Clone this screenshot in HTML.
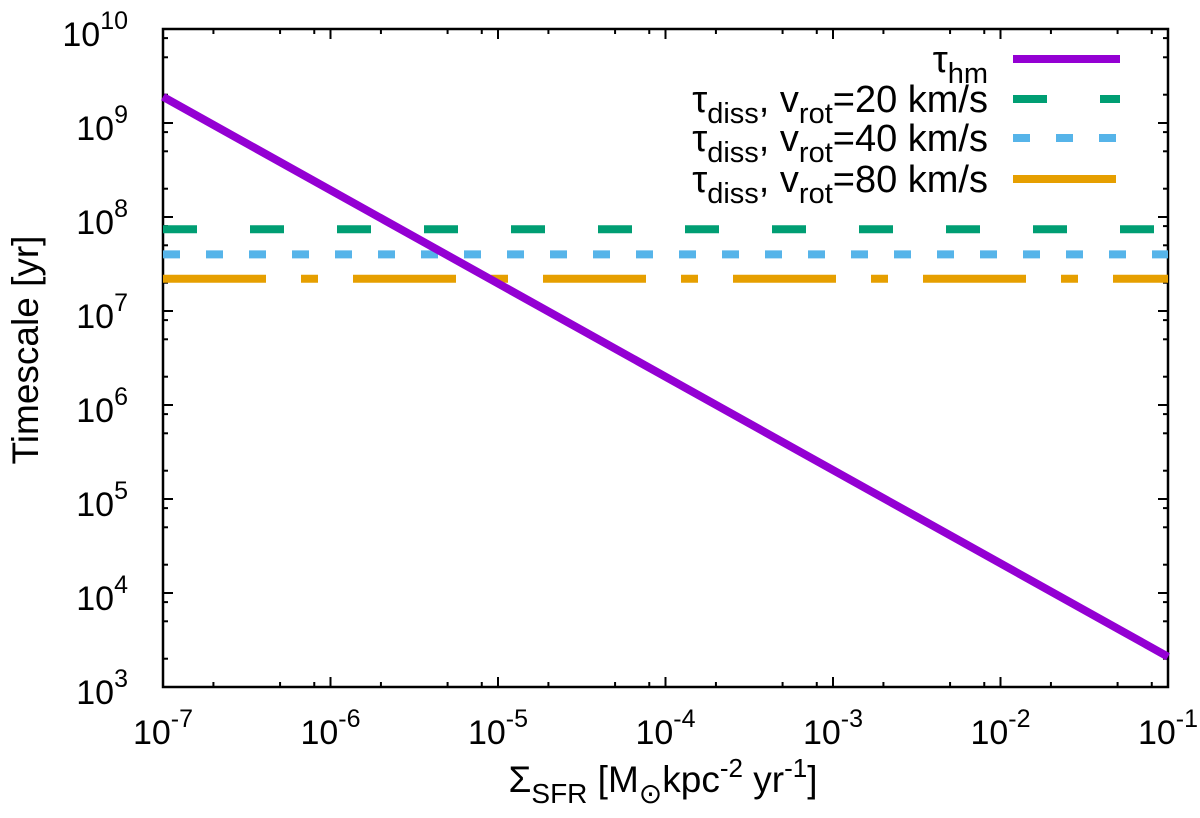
<!DOCTYPE html>
<html><head><meta charset="utf-8"><style>
html,body{margin:0;padding:0;background:#fff;}
svg{display:block;font-family:"Liberation Sans",Arial,sans-serif;}
</style></head><body>
<svg id="chart" width="1200" height="818" viewBox="0 0 1200 818" xmlns="http://www.w3.org/2000/svg"></svg>
<script>
const xDecades = [-7,-6,-5,-4,-3,-2,-1];
const yDecades = [3,4,5,6,7,8,9,10];
const minorMult = [2,5,8];
const hmX = [1e-7, 1e-1];
const hmY = [1.9e9, 2.1e3];
const dissVrot = ["20","40","80"];
const dissY = [7.4e7, 4.0e7, 2.2e7];
const dissColors = ["#009e73","#56b4e9","#e69f00"];
const dissDash = ["34 53","17 26","103 35 17 35"];

const L=163,R=1168,T=29,B=687;
const sx=v=>L+(Math.log10(v)+7)/6*(R-L);
const sy=v=>B-(Math.log10(v)-3)/7*(B-T);
const NS="http://www.w3.org/2000/svg";
const svg=document.getElementById('chart');
function mk(tag,attrs,parent){const e=document.createElementNS(NS,tag);for(const k in attrs)e.setAttribute(k,attrs[k]);(parent||svg).appendChild(e);return e;}

const axes=mk('g',{});


xDecades.forEach(d=>{
  const x=sx(Math.pow(10,d));
  mk('line',{x1:x,x2:x,y1:B,y2:B-10,stroke:'#000','stroke-width':2},axes);
  mk('line',{x1:x,x2:x,y1:T,y2:T+10,stroke:'#000','stroke-width':2},axes);
  if(d<-1)minorMult.forEach(m=>{const xm=sx(m*Math.pow(10,d));
    mk('line',{x1:xm,x2:xm,y1:B,y2:B-5,stroke:'#000','stroke-width':2},axes);
    mk('line',{x1:xm,x2:xm,y1:T,y2:T+5,stroke:'#000','stroke-width':2},axes);});
  const t=mk('text',{x:x,y:744,'font-size':34,'text-anchor':'middle',fill:'#000'});
  
  
  t.innerHTML='10<tspan dy="-17" font-size="25">'+d+'</tspan>';
});
yDecades.forEach(d=>{
  const y=sy(Math.pow(10,d));
  mk('line',{x1:L,x2:L+10,y1:y,y2:y,stroke:'#000','stroke-width':2},axes);
  mk('line',{x1:R,x2:R-10,y1:y,y2:y,stroke:'#000','stroke-width':2},axes);
  if(d<10)minorMult.forEach(m=>{const ym=sy(m*Math.pow(10,d));
    mk('line',{x1:L,x2:L+5,y1:ym,y2:ym,stroke:'#000','stroke-width':2},axes);
    mk('line',{x1:R,x2:R-5,y1:ym,y2:ym,stroke:'#000','stroke-width':2},axes);});
  const t=mk('text',{x:128,y:y+17,'font-size':34,'text-anchor':'end',fill:'#000'});
  
  
  t.innerHTML='10<tspan dy="-17" font-size="25">'+d+'</tspan>';
});

dissY.forEach((v,i)=>{
  const l=mk('line',{x1:L,x2:R,y1:sy(v),y2:sy(v),stroke:dissColors[i],'stroke-width':8,'stroke-dasharray':dissDash[i]});
  
  
});
const hm=mk('polyline',{points:hmX.map((x,i)=>sx(x)+','+sy(hmY[i])).join(' '),stroke:'#9400d3','stroke-width':8,fill:'none'});



mk('rect',{x:L,y:T,width:R-L,height:B-T,fill:'none',stroke:'#000','stroke-width':2.5},axes);

const leg=mk('g',{});


const rows=[59,99,138,179];
const le0=mk('text',{x:988,y:rows[0]+13,'font-size':38,'text-anchor':'end'},leg);


le0.innerHTML='τ<tspan dy="11" font-size="29">hm</tspan>';
mk('line',{x1:1013,x2:1120,y1:rows[0],y2:rows[0],stroke:'#9400d3','stroke-width':8},leg);
dissVrot.forEach((v,i)=>{
  const y=rows[i+1];
  const t=mk('text',{x:988,y:y+13,'font-size':38,'text-anchor':'end'},leg);
  
  
  t.innerHTML='τ<tspan dy="11" font-size="29">diss</tspan><tspan dy="-11">, v</tspan><tspan dy="11" font-size="29">rot</tspan><tspan dy="-11">='+v+' km/s</tspan>';
  mk('line',{x1:1013,x2:1120,y1:y,y2:y,stroke:dissColors[i],'stroke-width':8,'stroke-dasharray':dissDash[i]},leg);
});

const xt=mk('text',{x:663,y:792,'font-size':37,'text-anchor':'middle'});


xt.innerHTML='Σ<tspan dy="11" font-size="28">SFR</tspan><tspan dy="-11"> [M</tspan><tspan dy="11" font-size="28">⊙</tspan><tspan dy="-11">kpc</tspan><tspan dy="-15" font-size="26">-2</tspan><tspan dy="15"> yr</tspan><tspan dy="-15" font-size="26">-1</tspan><tspan dy="15">]</tspan>';
const yt=mk('text',{x:0,y:0,'font-size':37,'text-anchor':'middle',transform:'translate(38,350) rotate(-90)'});


yt.textContent='Timescale [yr]';
</script>
</body></html>
